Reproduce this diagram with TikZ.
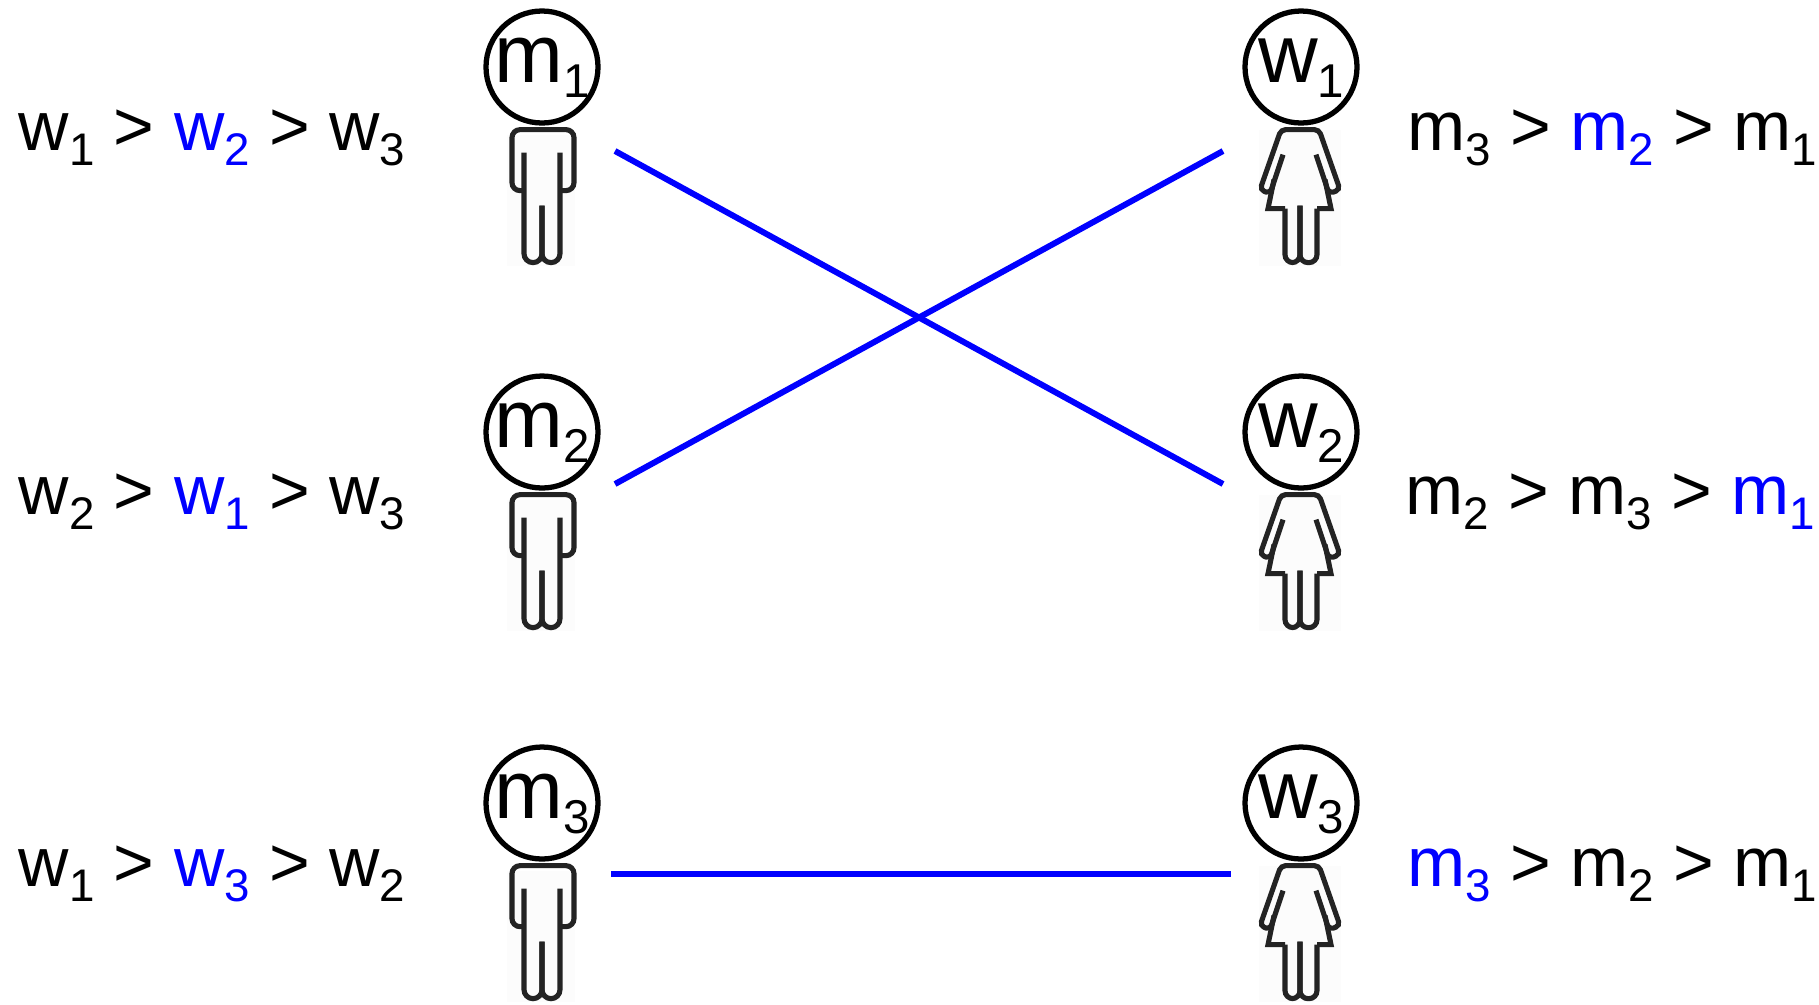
\documentclass[tikz,border=0pt]{standalone}
\usepackage{fontspec}
\setmainfont{Liberation Sans}
\usetikzlibrary{positioning}
\definecolor{hatch}{RGB}{252,252,252}
\definecolor{outline}{RGB}{35,35,35}
\tikzset{%
  head/.style={draw, circle, line width=1.5pt, minimum size=1.12cm, inner sep=0pt, font=\fontsize{23.5}{26}\selectfont},
  figure/.style={inner sep=0pt, outer sep=0pt},
  limb/.style={outline, line width=1.45pt},% outline of a body
  prefs/.style={anchor=base west, inner sep=0pt, font=\fontsize{19.85}{24}\selectfont},% preference list
  match/.style={blue, line width=1.7pt}% matched pair
}
\newcommand*{\idx}[1]{\raisebox{-0.15cm}{\fontsize{13}{15}\selectfont #1}}
\newcommand*{\hidx}[1]{\raisebox{-0.15cm}{\fontsize{13.5}{16}\selectfont #1}}
\newcommand*{\hname}[2]{\makebox[0pt]{\raisebox{-0.15cm}[0pt][0pt]{#1\hidx{#2}}}}
\newcommand*{\pick}[1]{\textcolor{blue}{#1}}
\newcommand*{\manbody}{
\begin{tikzpicture}
  \useasboundingbox (-0.42,0) rectangle (0.42,-1.40);
  \fill[hatch] (-0.35,-0.07) rectangle (0.33,-1.38);
  \draw[limb, rounded corners=0.08cm] (-0.18,-0.63) -- (-0.30,-0.63) -- (-0.30,-0.02)
    -- (0.32,-0.02) -- (0.32,-0.63) -- (0.18,-0.63);
  \draw[limb, rounded corners=0.09cm] (-0.18,-0.25) -- (-0.18,-1.35) -- (0,-1.35) -- (0,-0.78);
  \draw[limb, rounded corners=0.09cm] (0,-0.78) -- (0,-1.35) -- (0.18,-1.35) -- (0.18,-0.25);
\end{tikzpicture}}
\newcommand*{\womanbody}{
\begin{tikzpicture}
  \useasboundingbox (-0.42,0) rectangle (0.42,-1.40);
  \fill[hatch] (-0.42,-0.02) rectangle (0.40,-1.38);
  \draw[limb, rounded corners=0.045cm] (-0.18,-0.27) -- (-0.31,-0.66) -- (-0.41,-0.62)
    -- (-0.20,-0.02) -- (0.18,-0.02) -- (0.39,-0.62) -- (0.28,-0.66) -- (0.15,-0.27);
  \draw[limb] (-0.27,-0.52) -- (-0.33,-0.81) -- (-0.16,-0.81);
  \draw[limb] (0.24,-0.52) -- (0.30,-0.81) -- (0.16,-0.81);
  \draw[limb, rounded corners=0.08cm] (-0.16,-0.81) -- (-0.16,-1.35) -- (-0.01,-1.35) -- (-0.01,-0.78);
  \draw[limb, rounded corners=0.08cm] (-0.01,-0.78) -- (-0.01,-1.35) -- (0.16,-1.35) -- (0.16,-0.81);
\end{tikzpicture}}

\begin{document}
\begin{tikzpicture}
\useasboundingbox (0,0) rectangle (18.19,-10.04);

\node[head] (m1) at (5.42,-0.67) {\hname{m}{1}};
\node[head] (m2) at (5.42,-4.32) {\hname{m}{2}};
\node[head] (m3) at (5.42,-8.03) {\hname{m}{3}};
\node[head] (w1) at (13.01,-0.67) {\hname{w}{1}};
\node[head] (w2) at (13.01,-4.32) {\hname{w}{2}};
\node[head] (w3) at (13.01,-8.03) {\hname{w}{3}};

\node[figure, below=0.02cm of m1] (bm1) {\manbody};
\node[figure, below=0.02cm of m2] (bm2) {\manbody};
\node[figure, below=0.02cm of m3] (bm3) {\manbody};
\node[figure, below=0.02cm of w1] (bw1) {\womanbody};
\node[figure, below=0.02cm of w2] (bw2) {\womanbody};
\node[figure, below=0.02cm of w3] (bw3) {\womanbody};

\node[prefs] (pm1) at (0.18,-1.50) {w\idx{1} > \pick{w\idx{2}} > w\idx{3}};
\node[prefs] (pm2) at (0.18,-5.14) {w\idx{2} > \pick{w\idx{1}} > w\idx{3}};
\node[prefs] (pm3) at (0.18,-8.86) {w\idx{1} > \pick{w\idx{3}} > w\idx{2}};
\node[prefs] (pw1) at (14.07,-1.50) {m\idx{3} > \pick{m\idx{2}} > m\idx{1}};
\node[prefs] (pw2) at (14.05,-5.14) {m\idx{2} > m\idx{3} > \pick{m\idx{1}}};
\node[prefs] (pw3) at (14.07,-8.86) {\pick{m\idx{3}} > m\idx{2} > m\idx{1}};

\coordinate (a1) at (6.15,-1.51);
\coordinate (a2) at (6.15,-4.84);
\coordinate (a3) at (6.11,-8.735);
\coordinate (b1) at (12.23,-1.51);
\coordinate (b2) at (12.23,-4.84);
\coordinate (b3) at (12.31,-8.735);

\draw[match] (a1) -- (b2);
\draw[match] (a2) -- (b1);
\draw[match] (a3) -- (b3);

\end{tikzpicture}
\end{document}
